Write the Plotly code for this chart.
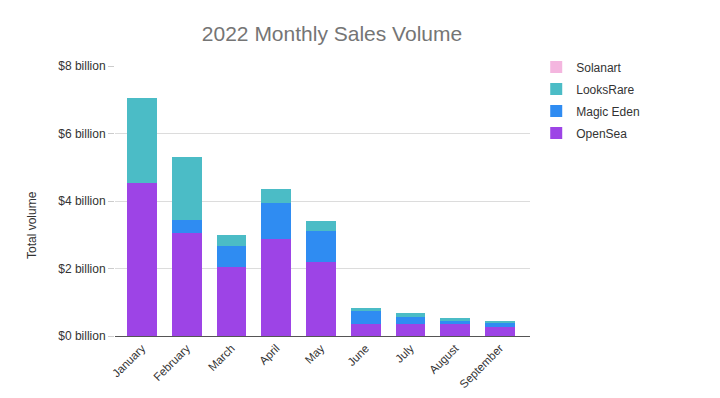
import plotly.graph_objects as go

months = ["January", "February", "March", "April", "May", "June", "July", "August", "September"]
opensea = [4.53, 3.06, 2.04, 2.87, 2.20, 0.37, 0.37, 0.36, 0.27]
magic_eden = [0.0, 0.37, 0.64, 1.07, 0.90, 0.37, 0.20, 0.09, 0.12]
looksrare = [2.51, 1.88, 0.31, 0.42, 0.30, 0.10, 0.10, 0.08, 0.06]
solanart = [0.0, 0.0, 0.0, 0.0, 0.0, 0.0, 0.0, 0.0, 0.0]

tick_vals = [0, 2, 4, 6, 8]
tick_text = ["$0 billion", "$2 billion", "$4 billion", "$6 billion", "$8 billion"]

series = [
    ("OpenSea", opensea, "#9d44e6"),
    ("Magic Eden", magic_eden, "#2f8cf2"),
    ("LooksRare", looksrare, "#4bbcc6"),
    ("Solanart", solanart, "#f4b6df"),
]

fig = go.Figure()
for i, (name, vals, col) in enumerate(series):
    fig.add_trace(go.Bar(name=name, x=months, y=vals, legendgroup=name,
                         legendrank=1000 - i,
                         marker=dict(color=col, line=dict(width=0))))

fig.add_annotation(text="Total volume", textangle=-90, xref="paper", yref="paper",
                   x=-0.2, y=0.411, xanchor="center", yanchor="middle", showarrow=False,
                   font=dict(size=12, color="#333333"))

fig.update_layout(
    barmode="stack",
    bargap=0.34,
    width=720, height=398,
    margin=dict(l=107, r=198, t=58, b=70),
    paper_bgcolor="white", plot_bgcolor="white",
    font=dict(family="Arial, Liberation Sans, sans-serif", color="#333333"),
    title=dict(text="2022 Monthly Sales Volume", x=324/720, xanchor="center", y=1 - 26/398, yanchor="middle",
               font=dict(size=21, color="#757575")),
    legend=dict(traceorder="grouped", x=1.015, xanchor="left", y=1.05, yanchor="top",
                font=dict(size=12, color="#333333"), itemwidth=30, tracegroupgap=3),
    xaxis=dict(tickangle=-45, tickfont=dict(size=11.5, color="#333333"), showgrid=False,
               range=[-0.603, 8.67],
               showline=True, linecolor="#555555", linewidth=1, ticks=""),
    yaxis=dict(range=[0, 8], tickvals=tick_vals, ticktext=tick_text, tickfont=dict(size=12, color="#333333"),
               showgrid=True, gridcolor="#dcdcdc", zeroline=False, ticks="outside", ticklen=6, tickcolor="#cccccc"),
)
fig.write_html("out.html")
